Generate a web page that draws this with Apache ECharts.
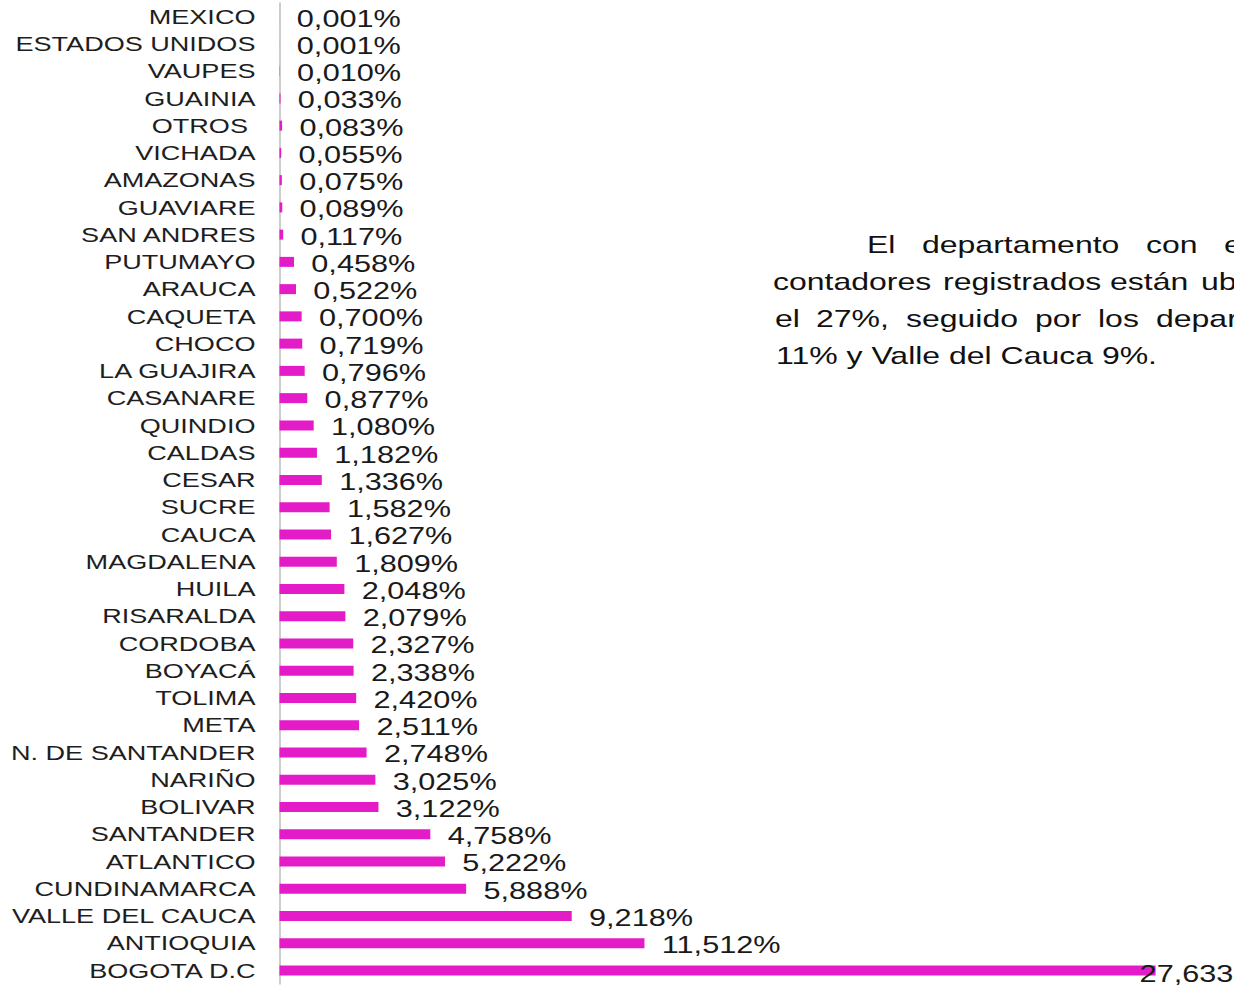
<!DOCTYPE html>
<html>
<head>
<meta charset="utf-8">
<script src="https://cdn.jsdelivr.net/npm/echarts@6/dist/echarts.min.js"></script>
<style>
  html, body { margin: 0; padding: 0; background: #fff; overflow: hidden; width: 1234px; height: 985px; }
  #wrap { position: absolute; left: 0; top: 0; width: 1234px; height: 985px; overflow: hidden; }
  #chart { position: absolute; left: 0; top: 0; height: 985px; transform-origin: 0 0; }
</style>
</head>
<body>
<div id="wrap"><div id="chart"></div></div>
<script>
// ---- data ----
const categories = ['MEXICO','ESTADOS UNIDOS','VAUPES','GUAINIA','OTROS ','VICHADA','AMAZONAS','GUAVIARE','SAN ANDRES','PUTUMAYO','ARAUCA','CAQUETA','CHOCO','LA GUAJIRA','CASANARE','QUINDIO','CALDAS','CESAR','SUCRE','CAUCA','MAGDALENA','HUILA','RISARALDA','CORDOBA','BOYACÁ','TOLIMA','META','N. DE SANTANDER','NARIÑO','BOLIVAR','SANTANDER','ATLANTICO','CUNDINAMARCA','VALLE DEL CAUCA','ANTIOQUIA','BOGOTA D.C'];
const values = [0.001,0.001,0.010,0.033,0.083,0.055,0.075,0.089,0.117,0.458,0.522,0.700,0.719,0.796,0.877,1.080,1.182,1.336,1.582,1.627,1.809,2.048,2.079,2.327,2.338,2.420,2.511,2.748,3.025,3.122,4.758,5.222,5.888,9.218,11.512,27.633];

// ---- paragraph text (visible part) ----
const paraLines = [
  ['El', 'departamento', 'con', 'e'],
  ['contadores', 'registrados', 'están', 'ub'],
  ['el', '27%,', 'seguido', 'por', 'los', 'depar'],
  ['11% y Valle del Cauca 9%.']
];
// layout (page pixels) of each word start and line centre
const paraX = [
  [867, 922, 1146, 1224],
  [773, 943, 1110, 1201],
  [775, 816, 906, 1035, 1098, 1156],
  [776]
];
const paraY = [245, 282, 319, 356];

const S = 1.3333;            // horizontal stretch of the reference
const W = 1234 / S;
const el = document.getElementById('chart');
el.style.width = W + 'px';
el.style.transform = 'scaleX(' + S + ')';

const FONT = '"Liberation Sans", Arial, sans-serif';
const BAR = '#E41CC8';

const graphics = [];
paraLines.forEach((words, li) => {
  words.forEach((w, wi) => {
    graphics.push({
      type: 'text',
      x: paraX[li][wi] / S,
      y: paraY[li],
      style: { text: w, font: '24px ' + FONT, fill: '#111', textVerticalAlign: 'middle', textAlign: 'left' }
    });
  });
});

const last = values.length - 1;
const seriesData = values.map((v, i) => {
  if (i === last) {
    return { value: v, label: { offset: [-25, 4] } };
  }
  return v;
});

const chart = echarts.init(el, null, { renderer: 'svg' });
chart.setOption({
  animation: false,
  backgroundColor: '#fff',
  grid: { left: 209.6, right: 3, top: 3, bottom: 1, containLabel: false },
  xAxis: {
    type: 'value', min: 0, max: 30,
    axisLine: { show: false }, axisTick: { show: false },
    axisLabel: { show: false }, splitLine: { show: false }
  },
  yAxis: {
    type: 'category', data: categories, inverse: true,
    axisLine: { show: true, lineStyle: { color: '#cdcdcd', width: 1.5 } },
    axisTick: { show: false },
    axisLabel: { color: '#1e1e1e', fontSize: 20.3, fontFamily: FONT, margin: 18, offset: [0, 1] }
  },
  series: [{
    type: 'bar',
    data: seriesData,
    barWidth: 10,
    itemStyle: { color: BAR },
    label: {
      show: true, position: 'right', distance: 13,
      color: '#1a1a1a', fontSize: 23, fontFamily: FONT,
      offset: [0, 2],
      formatter: p => p.value.toFixed(3).replace('.', ',') + '%'
    }
  }],
  graphic: graphics
});
</script>
</body>
</html>
